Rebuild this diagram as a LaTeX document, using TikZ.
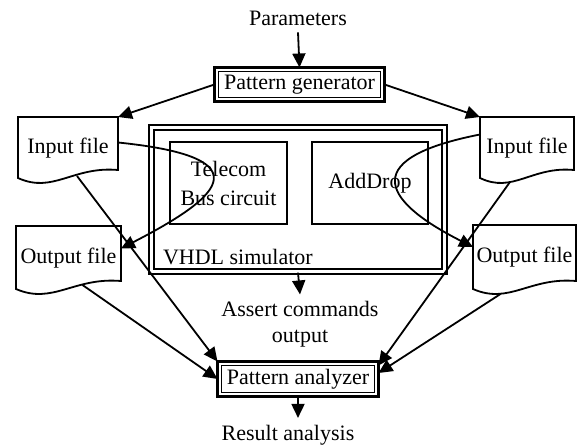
\documentclass[tikz,border=0pt]{standalone}
\usepackage{fontspec}
\setmainfont{Liberation Serif}
\usetikzlibrary{arrows.meta,calc}

\begin{document}
\begin{tikzpicture}[x=0.5pt, y=-0.5pt, font=\fontsize{11}{13}\selectfont,
        conn/.style={-{Triangle[length=7pt,width=6.5pt]}, line width=0.9pt},
        dblbox/.style={draw, line width=1.5pt, inner sep=0pt, outer sep=0pt,
            append after command={\pgfextra{\draw[line width=0.5pt]
                ([shift={(2pt,-2pt)}]\tikzlastnode.north west) rectangle
                ([shift={(-2pt,2pt)}]\tikzlastnode.south east);}}},
        docfile/.style={inner sep=0pt, outer sep=0pt, text depth=5pt},
        unitbox/.style={draw, line width=0.9pt, minimum width=58.5pt, minimum height=41pt}]
        \useasboundingbox (0,0) rectangle (584,448);

        % Generator side
        \node (params) at (298,18) {Parameters};
        \node[dblbox, minimum width=85pt, minimum height=17pt] (pgen) at (299.5,84.5) {Pattern generator};

        % Files
        \node[docfile, minimum width=50pt, minimum height=33.5pt] (inl) at (68,150.5) {Input file};
        \node[docfile, minimum width=47pt, minimum height=33.5pt] (inr) at (527,150.5) {Input file};
        \node[docfile, minimum width=52.5pt, minimum height=34.5pt] (outl) at (68.5,260.5) {Output file};
        \node[docfile, minimum width=51.5pt, minimum height=35pt] (outr) at (524.5,260) {Output file};
        \foreach \f in {inl,inr,outl,outr}
            \draw[line width=0.9pt] (\f.north west) -- (\f.north east) -- ([yshift=7pt]\f.south east)
                .. controls ($(\f.south west)!0.55!(\f.south east)+(0,9pt)$)
                and ($(\f.south west)!0.35!(\f.south east)+(0,-5pt)$) .. ([yshift=3pt]\f.south west) -- cycle;

        % Simulator
        \node[draw, double, line width=1.1pt, double distance=1.2pt, minimum width=146.5pt, minimum height=72pt] (vhdl) at (298,199.5) {};
        \node[unitbox, align=center] (telecom) at (228.5,183) {Telecom\\[1.5pt]Bus circuit};
        \node[unitbox, minimum width=58pt] (adddrop) at (370,183) {AddDrop};
        \node[anchor=west] (vhdllbl) at (156,257) {VHDL simulator};
        \node[align=center] (assert) at (300,324.5) {Assert commands\\output};

        % Analyzer side
        \node[dblbox, minimum width=80.5pt, minimum height=17.5pt] (pana) at (298,379) {Pattern analyzer};
        \node (result) at (288,435) {Result analysis};

        % Connections
        \draw[conn] (params.south) -- (pgen.north);
        \draw[conn] (pgen.west) -- (inl.north east);
        \draw[conn] (pgen.east) -- (inr.north west);

        \draw[conn] ([yshift=4pt]inl.east) .. controls (270,158) and (215,200) .. ([yshift=6pt]outl.east);
        \draw[conn] ([yshift=8pt]inr.west) .. controls (350,160) and (390,205) .. ([yshift=6.5pt]outr.west);

        \draw[conn] (vhdl.south) -- (assert.north);

        \draw[conn] ([xshift=4.5pt,yshift=4pt]inl.south) -- (pana.north west);
        \draw[conn] ([xshift=7pt,yshift=5pt]outl.south) -- (pana.west);
        \draw[conn] ([xshift=-8.5pt,yshift=1pt]inr.south) -- ([yshift=-2pt]pana.north east);
        \draw[conn] ([xshift=-12pt,yshift=0.5pt]outr.south) -- ([yshift=3pt]pana.east);

        \draw[conn] (pana.south) -- (pana.south |- result.north);
    \end{tikzpicture}
\end{document}
